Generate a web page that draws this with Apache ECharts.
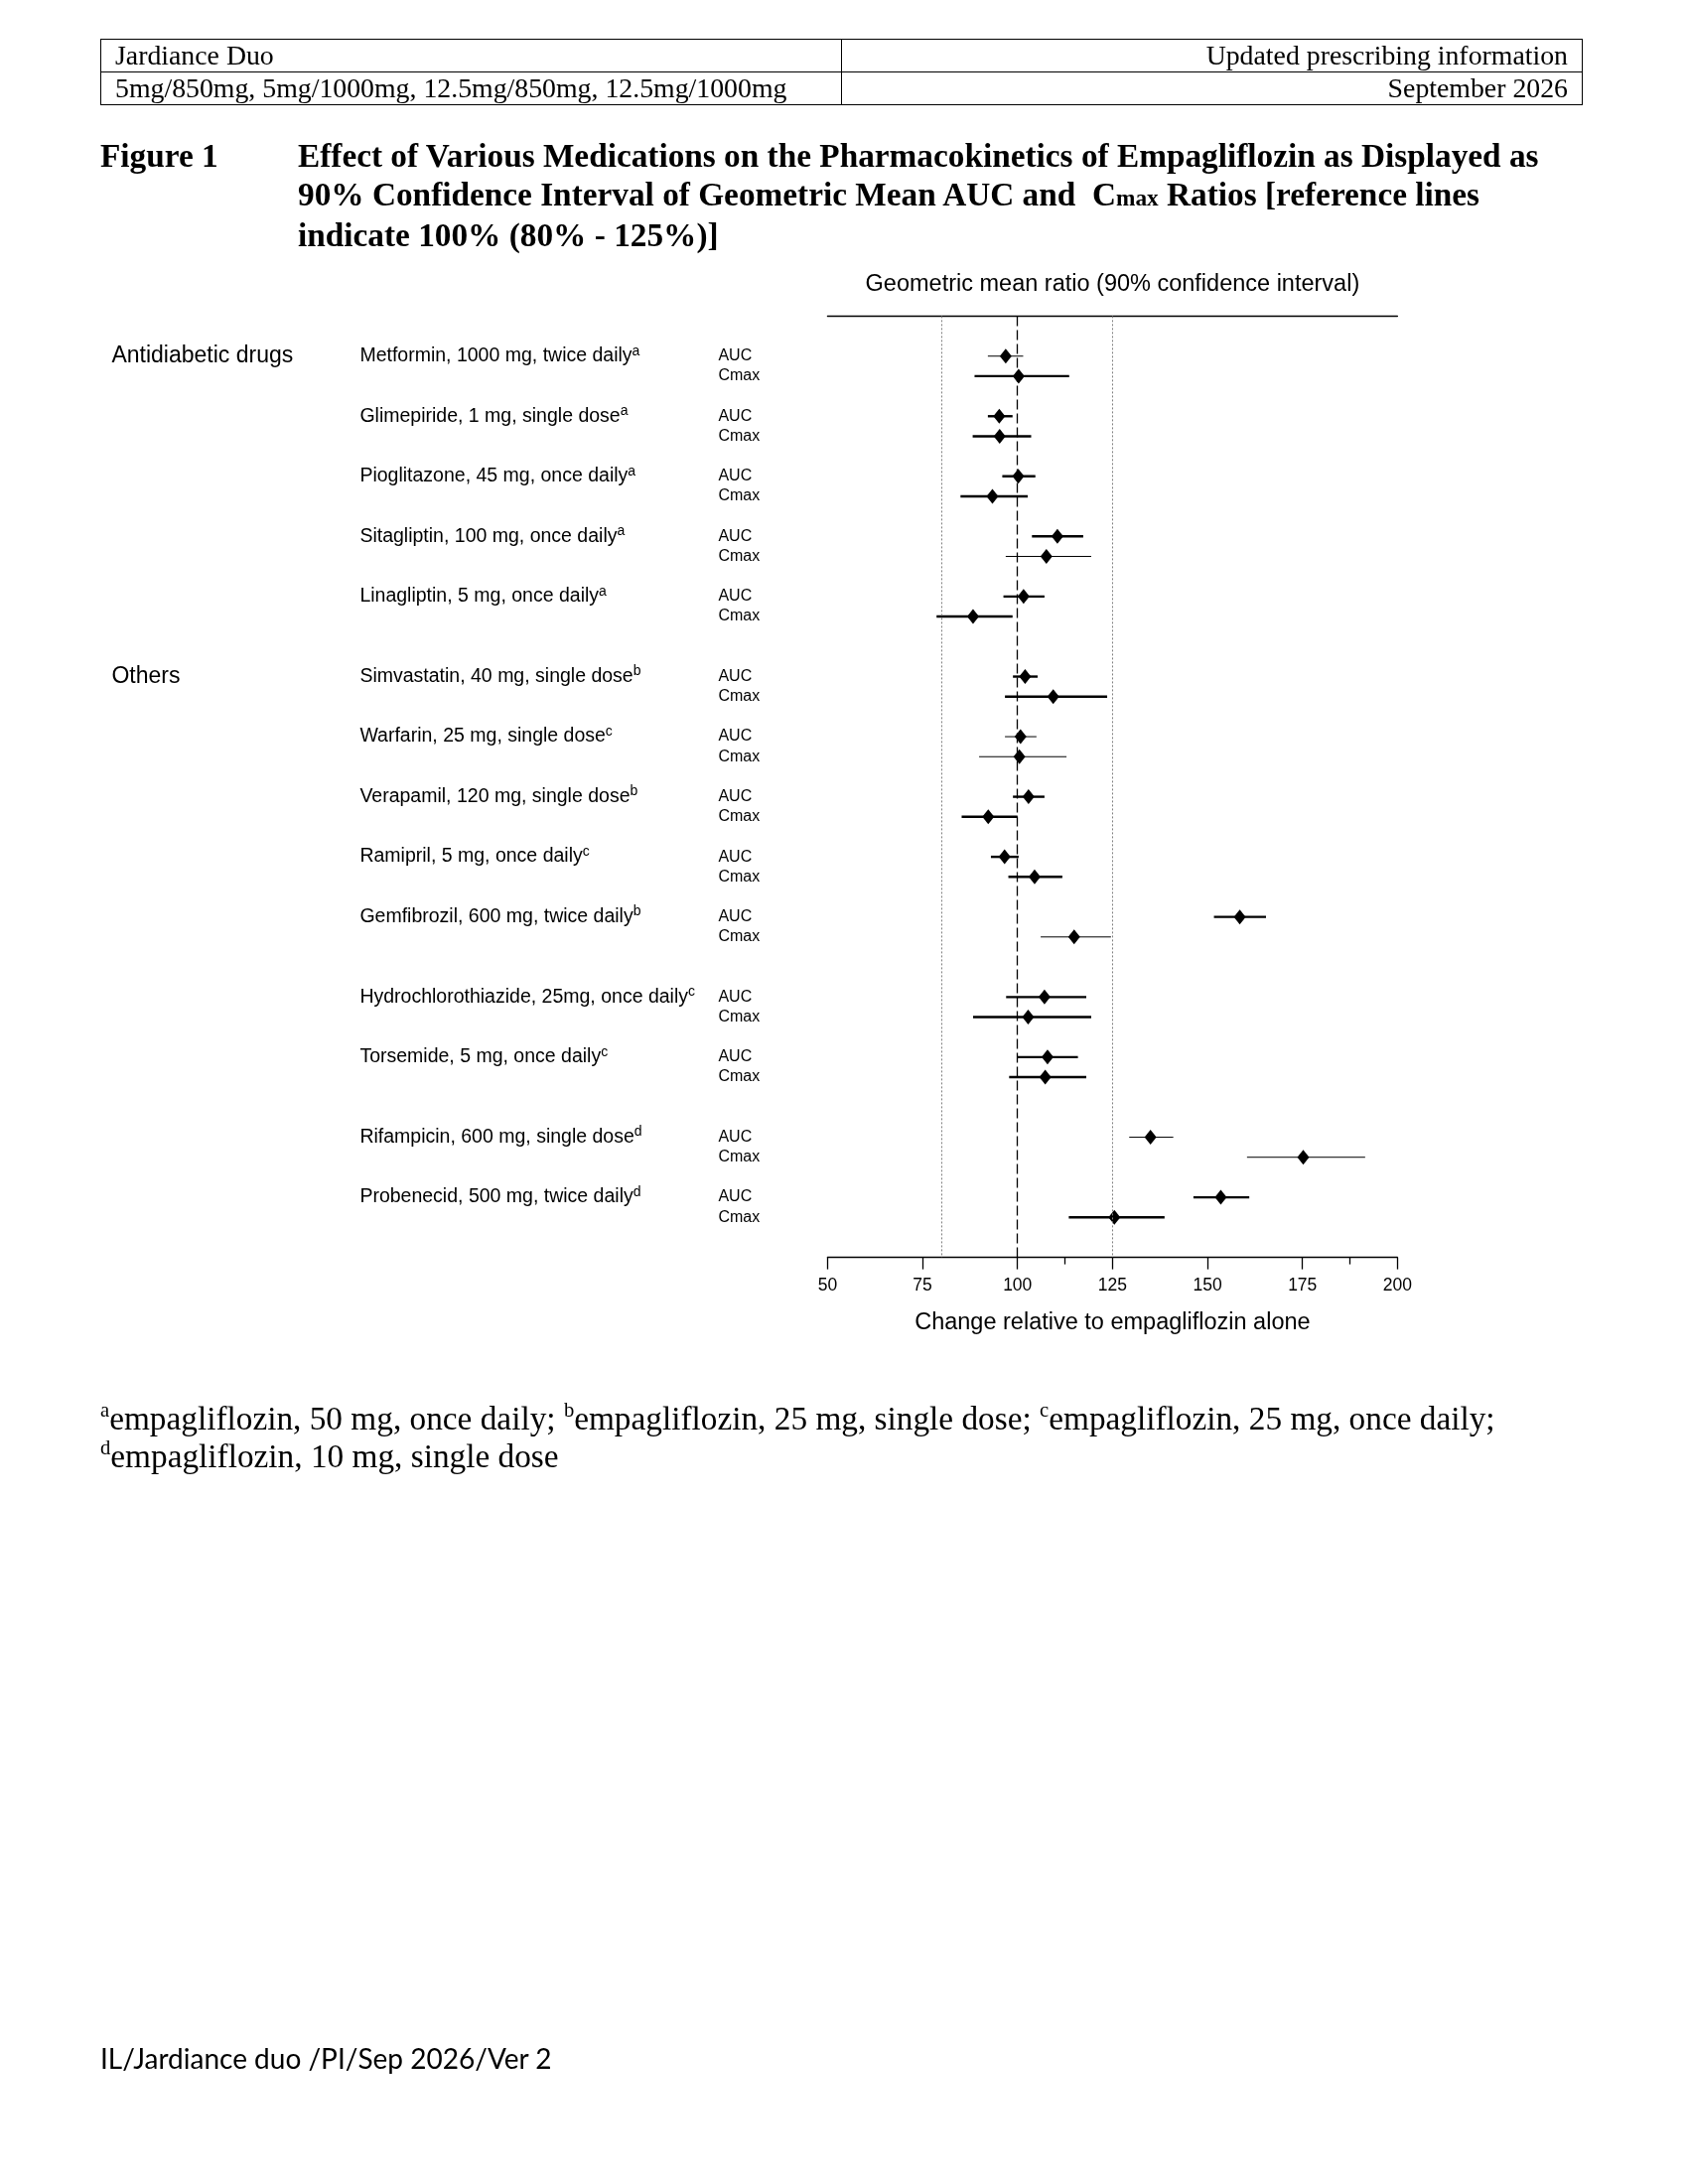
<!DOCTYPE html>
<html>
<head>
<meta charset="utf-8">
<title>Jardiance Duo - Figure 1</title>
<script src="https://cdn.jsdelivr.net/npm/echarts@6.0.0/dist/echarts.min.js"></script>
<style>
  html, body { margin: 0; padding: 0; background: #fff; }
  #page { position: relative; width: 1700px; height: 2200px; overflow: hidden; }
  #chart { position: absolute; left: 0; top: 0; width: 1700px; height: 2200px; }
  .serif { font-family: 'Liberation Serif', 'Times New Roman', serif; color: #000; }
  .hdr { position: absolute; left: 101px; top: 39px; width: 1492px; border-collapse: collapse; table-layout: fixed; font-size: 27.8px; z-index: 2; }
  .hdr td { border: 1px solid #000; height: 32px; padding: 0 14px; line-height: 32px; white-space: nowrap; overflow: hidden; }
  .hdr td.r { text-align: right; }
  .fig { position: absolute; top: 138px; font-weight: bold; font-size: 33.3px; line-height: 38.5px; white-space: nowrap; z-index: 2; }
  .small { font-size: 0.7em; }
  .notes { position: absolute; left: 101px; top: 1410px; font-size: 33.3px; line-height: 38px; white-space: nowrap; z-index: 2; }
  .notes sup { font-size: 0.62em; vertical-align: 0.62em; line-height: 0; }
  .footer { position: absolute; left: 101px; top: 2055px; font-family: Lato, 'Open Sans', sans-serif; font-size: 28px; line-height: 36px; white-space: nowrap; z-index: 2; }
</style>
</head>
<body>
<div id="page">
  <div id="chart"></div>

  <table class="hdr serif">
    <colgroup><col style="width:746px"><col style="width:746px"></colgroup>
    <tr><td>Jardiance Duo</td><td class="r">Updated prescribing information</td></tr>
    <tr><td>5mg/850mg, 5mg/1000mg, 12.5mg/850mg, 12.5mg/1000mg</td><td class="r">September 2026</td></tr>
  </table>

  <div class="fig serif" style="left:101px">Figure 1</div>
  <div class="fig serif" style="left:300px">Effect of Various Medications on the Pharmacokinetics of Empagliflozin as Displayed as<br>90% Confidence Interval of Geometric Mean AUC and &nbsp;C<span class="small">max</span> Ratios [reference lines<br>indicate 100% (80% - 125%)]</div>

  <div class="notes serif"><sup>a</sup>empagliflozin, 50 mg, once daily; <sup>b</sup>empagliflozin, 25 mg, single dose; <sup>c</sup>empagliflozin, 25 mg, once daily;<br><sup>d</sup>empagliflozin, 10 mg, single dose</div>

  <div class="footer">IL/Jardiance duo /PI/Sep 2026/Ver 2</div>
</div>

<script>
// data
var groups = ['Antidiabetic drugs', 'Others'];
var groupFirstDrug = [0, 5];
var drugs = [
    'Metformin, 1000 mg, twice daily',
    'Glimepiride, 1 mg, single dose',
    'Pioglitazone, 45 mg, once daily',
    'Sitagliptin, 100 mg, once daily',
    'Linagliptin, 5 mg, once daily',
    'Simvastatin, 40 mg, single dose',
    'Warfarin, 25 mg, single dose',
    'Verapamil, 120 mg, single dose',
    'Ramipril, 5 mg, once daily',
    'Gemfibrozil, 600 mg, twice daily',
    'Hydrochlorothiazide, 25mg, once daily',
    'Torsemide, 5 mg, once daily',
    'Rifampicin, 600 mg, single dose',
    'Probenecid, 500 mg, twice daily'
];
var marks = ['a', 'a', 'a', 'a', 'a', 'b', 'c', 'b', 'c', 'b', 'c', 'c', 'd', 'd'];

var aucRatio = [96.9, 95.2, 100.2, 110.5, 101.6, 102.0, 100.8, 102.9, 96.6, 158.5, 107.1, 107.9, 135.0, 153.5];
var aucLower = [92.2, 92.2, 96.0, 103.8, 96.3, 98.8, 96.7, 98.8, 93.0, 151.7, 97.0, 100.0, 129.4, 146.3];
var aucUpper = [101.5, 98.7, 104.7, 117.3, 107.1, 105.3, 105.0, 107.1, 100.3, 165.4, 118.1, 115.9, 141.0, 161.0];

var cmaxRatio = [100.3, 95.3, 93.4, 107.6, 88.3, 109.4, 100.5, 92.3, 104.5, 114.9, 102.8, 107.3, 175.2, 125.5];
var cmaxLower = [88.7, 88.2, 85.0, 96.9, 78.7, 96.7, 89.9, 85.3, 97.6, 106.1, 88.3, 97.8, 160.4, 113.5];
var cmaxUpper = [113.6, 103.6, 102.7, 119.4, 98.7, 123.6, 112.9, 100.0, 111.8, 124.6, 119.4, 118.1, 191.5, 138.7];

var xTicks = [50, 75, 100, 125, 150, 175, 200];
var xMinorTicks = [112.5, 187.5];
var refLines = [80, 100, 125];

// layout: one row per line of text, a blank row between drugs,
// an extra blank row after these drugs
var gapAfter = [4, 9, 11];
var rowMax = 47;
var rows = [];
var r = 2;
drugs.forEach(function (d, i) {
    rows.push(r);
    r += 3;
    if (gapAfter.indexOf(i) >= 0) r += 1;
});
var groupRows = groupFirstDrug.map(function (i) { return rows[i]; });
var cmaxRows = rows.map(function (v) { return v + 1; });

// interval lines drawn thin in the original
var thinAuc = [0, 6, 12];
var thinCmax = [3, 6, 9, 12];

var font = "'Liberation Sans', Arial, sans-serif";

function ciSeries(lower, upper, rowList, thin) {
    return {
        type: 'custom',
        silent: true,
        z: 3,
        data: lower.map(function (lo, i) { return [lo, upper[i], rowList[i]]; }),
        encode: { x: [0, 1], y: 2 },
        renderItem: function (params, api) {
            var a = api.coord([api.value(0), api.value(2)]);
            var b = api.coord([api.value(1), api.value(2)]);
            return {
                type: 'line',
                shape: { x1: a[0], y1: a[1], x2: b[0], y2: b[1] },
                style: { stroke: '#000', lineWidth: thin.indexOf(params.dataIndex) >= 0 ? 1 : 2.4 }
            };
        }
    };
}

function pointSeries(ratio, rowList) {
    return {
        type: 'scatter',
        silent: true,
        z: 4,
        symbol: 'diamond',
        symbolSize: [12, 15],
        itemStyle: { color: '#000', opacity: 1 },
        data: ratio.map(function (v, i) { return [v, rowList[i]]; })
    };
}

function labelAxis(values, margin, size, formatter, rich) {
    return {
        type: 'value',
        position: 'left',
        min: 0,
        max: rowMax,
        inverse: true,
        axisLine: { show: false, onZero: false },
        axisTick: { show: false },
        splitLine: { show: false },
        axisLabel: {
            customValues: values,
            margin: margin,
            align: 'left',
            color: '#000',
            fontFamily: font,
            fontSize: size,
            formatter: formatter,
            rich: rich
        }
    };
}

var chart = echarts.init(document.getElementById('chart'), null, { renderer: 'canvas' });

var option = {
    animation: false,
    textStyle: { fontFamily: font, color: '#000' },
    grid: { left: 833.4, right: 292.6, top: 318.4, bottom: 933.4, outerBoundsMode: 'none' },
    xAxis: [
        {
            type: 'value',
            position: 'bottom',
            min: 50,
            max: 200,
            interval: 25,
            name: 'Change relative to empagliflozin alone',
            nameLocation: 'middle',
            nameGap: 54,
            nameTextStyle: { fontSize: 23.5, color: '#000', fontFamily: font },
            axisLine: { onZero: false, lineStyle: { color: '#000', width: 1.3 } },
            axisTick: { customValues: xTicks, length: 12, lineStyle: { color: '#000', width: 1.3 } },
            axisLabel: { customValues: xTicks, margin: 20, fontSize: 17.5, color: '#000', fontFamily: font },
            splitLine: { show: false }
        },
        {
            type: 'value',
            position: 'bottom',
            min: 50,
            max: 200,
            axisLine: { show: false, onZero: false },
            axisTick: { customValues: xMinorTicks, length: 7, lineStyle: { color: '#000', width: 1.3 } },
            axisLabel: { show: false },
            splitLine: { show: false }
        },
        {
            type: 'value',
            position: 'top',
            min: 50,
            max: 200,
            name: 'Geometric mean ratio (90% confidence interval)',
            nameLocation: 'middle',
            nameGap: 20,
            nameTextStyle: { fontSize: 23.5, color: '#000', fontFamily: font },
            axisLine: { onZero: false, lineStyle: { color: '#000', width: 1.3 } },
            axisTick: { show: false },
            axisLabel: { show: false },
            splitLine: { show: false }
        }
    ],
    yAxis: [
        labelAxis(rows.concat(cmaxRows), 110, 16, function (v) {
            return rows.indexOf(v) >= 0 ? 'AUC' : 'Cmax';
        }),
        labelAxis(rows, 471, 19.5, function (v) {
            var i = rows.indexOf(v);
            return '{t|' + drugs[i] + '}{s|' + marks[i] + '}';
        }, {
            t: { fontSize: 19.5, lineHeight: 24, color: '#000', fontFamily: font },
            s: { fontSize: 14, lineHeight: 14, verticalAlign: 'top', color: '#000', fontFamily: font }
        }),
        labelAxis(groupRows, 721, 23, function (v) {
            return groups[groupRows.indexOf(v)];
        })
    ],
    series: [
        {
            type: 'scatter',
            silent: true,
            z: 1,
            data: [],
            markLine: {
                silent: true,
                symbol: 'none',
                label: { show: false },
                animation: false,
                data: refLines.map(function (x) {
                    return {
                        xAxis: x,
                        lineStyle: x === 100
                            ? { color: '#000', type: [10, 4], width: 1.3 }
                            : { color: '#808080', type: [2, 2], width: 1 }
                    };
                })
            }
        },
        ciSeries(aucLower, aucUpper, rows, thinAuc),
        ciSeries(cmaxLower, cmaxUpper, cmaxRows, thinCmax),
        pointSeries(aucRatio, rows),
        pointSeries(cmaxRatio, cmaxRows)
    ]
};

chart.setOption(option);
</script>
</body>
</html>
